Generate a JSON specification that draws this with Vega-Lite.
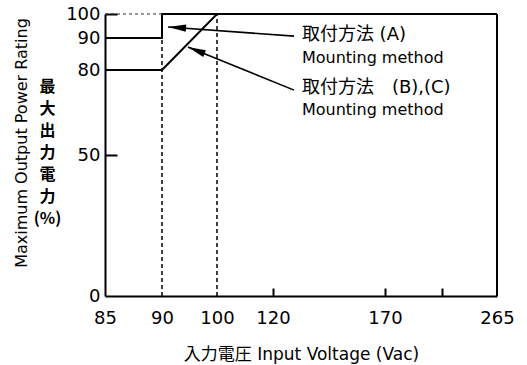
{
  "$schema": "https://vega.github.io/schema/vega-lite/v6.json",
  "width": 392,
  "height": 282,
  "autosize": {"type": "none"},
  "padding": {"left": 105, "top": 14, "right": 30, "bottom": 69},
  "background": "white",
  "config": {"view": {"stroke": null}},
  "title": {"text": "Maximum Output Power Rating", "orient": "left", "anchor": "middle", "font": "DejaVu Sans", "fontSize": 16, "fontWeight": "normal", "color": "black", "offset": 3, "dx": 12},
  "datasets": {
    "curves": [
      {"s": "A", "i": 1, "v": 85, "p": 90},
      {"s": "A", "i": 2, "v": 90, "p": 90},
      {"s": "A", "i": 3, "v": 90, "p": 100},
      {"s": "A", "i": 4, "v": 265, "p": 100},
      {"s": "B", "i": 1, "v": 85, "p": 80},
      {"s": "B", "i": 2, "v": 90, "p": 80},
      {"s": "B", "i": 3, "v": 100, "p": 100},
      {"s": "B", "i": 4, "v": 265, "p": 100}
    ],
    "guides": [{"v": 90, "p": 0, "p2": 100}, {"v": 100, "p": 0, "p2": 100}],
    "frame": [{"v": 265, "p": 0, "p2": 100}],
    "top": [{"v": 85, "v2": 90, "p": 100}],
    "arrows": [
      {"id": "A", "v": 129.4, "p": 90.8, "v2": 91.1, "p2": 94.6},
      {"id": "B", "v": 129.4, "p": 72.9, "v2": 94.7, "p2": 87.2}
    ],
    "ja": [
      {"v": 132.9, "p": 91.25, "t": "取付方法 (A)"},
      {"v": 132.9, "p": 73.6, "t": "取付方法　(B),(C)"}
    ],
    "en": [
      {"v": 132.9, "p": 83.75, "t": "Mounting method"},
      {"v": 132.9, "p": 65.9, "t": "Mounting method"}
    ]
  },
  "layer": [
    {
      "data": {"name": "guides"},
      "mark": {"type": "rule", "color": "black", "strokeWidth": 1.5, "strokeDash": [4, 3]},
      "encoding": {
        "x": {
          "field": "v", "type": "quantitative",
          "scale": {"domain": [85, 90, 100, 120, 170, 265], "range": [0, 57, 112, 168, 280, 392], "nice": false, "zero": false},
          "axis": {
            "title": "入力電圧 Input Voltage (Vac)",
            "titleFont": "DejaVu Sans, Noto Sans CJK JP", "titleFontSize": 17, "titleFontWeight": "normal", "titleColor": "black", "titlePadding": 19,
            "values": [85, 90, 100, 120, 170, 218, 265],
            "labelExpr": "datum.value == 218 ? '' : datum.label",
            "labelFont": "DejaVu Sans", "labelFontSize": 18, "labelColor": "black",
            "labelFlush": false, "labelOverlap": false, "labelPadding": 21,
            "grid": false,
            "domainColor": "black", "domainWidth": 2,
            "tickColor": "black", "tickWidth": 2, "tickSize": -8,
            "tickOpacity": {"condition": {"test": "datum.value == 120 || datum.value == 170 || datum.value == 218", "value": 1}, "value": 0}
          }
        },
        "y": {
          "field": "p", "type": "quantitative",
          "scale": {"domain": [0, 50, 80, 90, 100], "range": [282, 141, 56, 24, 0], "nice": false, "zero": false},
          "axis": {
            "title": ["最", "大", "出", "力", "電", "力", "(%)"],
            "titleFont": "Noto Sans CJK JP", "titleFontSize": 16, "titleFontWeight": "bold", "titleColor": "black",
            "titleAngle": 0, "titleAlign": "center", "titleBaseline": "top", "titleLineHeight": 22,
            "titleX": -58, "titleY": 64,
            "values": [0, 50, 80, 90, 100],
            "labelFont": "DejaVu Sans", "labelFontSize": 18, "labelColor": "black",
            "labelFlush": false, "labelOverlap": false, "labelPadding": 17,
            "grid": false,
            "domainColor": "black", "domainWidth": 2,
            "tickColor": "black", "tickWidth": 2, "tickSize": -12,
            "tickOpacity": {"condition": {"test": "datum.value == 50 || datum.value == 100", "value": 1}, "value": 0}
          }
        },
        "y2": {"field": "p2"}
      }
    },
    {
      "data": {"name": "curves"},
      "mark": {"type": "line", "color": "black", "strokeWidth": 2},
      "encoding": {
        "x": {"field": "v", "type": "quantitative"},
        "y": {"field": "p", "type": "quantitative"},
        "detail": {"field": "s"},
        "order": {"field": "i"}
      }
    },
    {
      "data": {"name": "frame"},
      "mark": {"type": "rule", "color": "black", "strokeWidth": 2},
      "encoding": {
        "x": {"field": "v", "type": "quantitative"},
        "y": {"field": "p", "type": "quantitative"},
        "y2": {"field": "p2"}
      }
    },
    {
      "data": {"name": "top"},
      "mark": {"type": "rule", "color": "#333", "strokeWidth": 1.2, "strokeDash": [3, 3]},
      "encoding": {
        "x": {"field": "v", "type": "quantitative"},
        "x2": {"field": "v2"},
        "y": {"field": "p", "type": "quantitative"}
      }
    },
    {
      "data": {"name": "arrows"},
      "mark": {"type": "rule", "color": "black", "strokeWidth": 1.6},
      "encoding": {
        "x": {"field": "v", "type": "quantitative"},
        "y": {"field": "p", "type": "quantitative"},
        "x2": {"field": "v2"},
        "y2": {"field": "p2"}
      }
    },
    {
      "data": {"name": "arrows"},
      "transform": [{"filter": "datum.id == 'A'"}],
      "mark": {"type": "point", "shape": "M 0 0 L 2 -0.4 L 2 0.4 Z", "filled": true, "color": "black", "opacity": 1, "size": 324, "angle": 4},
      "encoding": {
        "x": {"field": "v2", "type": "quantitative"},
        "y": {"field": "p2", "type": "quantitative"}
      }
    },
    {
      "data": {"name": "arrows"},
      "transform": [{"filter": "datum.id == 'B'"}],
      "mark": {"type": "point", "shape": "M 0 0 L 2 -0.4 L 2 0.4 Z", "filled": true, "color": "black", "opacity": 1, "size": 324, "angle": 22},
      "encoding": {
        "x": {"field": "v2", "type": "quantitative"},
        "y": {"field": "p2", "type": "quantitative"}
      }
    },
    {
      "data": {"name": "ja"},
      "mark": {"type": "text", "font": "DejaVu Sans, Noto Sans CJK JP", "fontSize": 18, "color": "black", "align": "left", "baseline": "middle"},
      "encoding": {
        "x": {"field": "v", "type": "quantitative"},
        "y": {"field": "p", "type": "quantitative"},
        "text": {"field": "t"}
      }
    },
    {
      "data": {"name": "en"},
      "mark": {"type": "text", "font": "DejaVu Sans", "fontSize": 16, "color": "black", "align": "left", "baseline": "middle"},
      "encoding": {
        "x": {"field": "v", "type": "quantitative"},
        "y": {"field": "p", "type": "quantitative"},
        "text": {"field": "t"}
      }
    }
  ]
}
